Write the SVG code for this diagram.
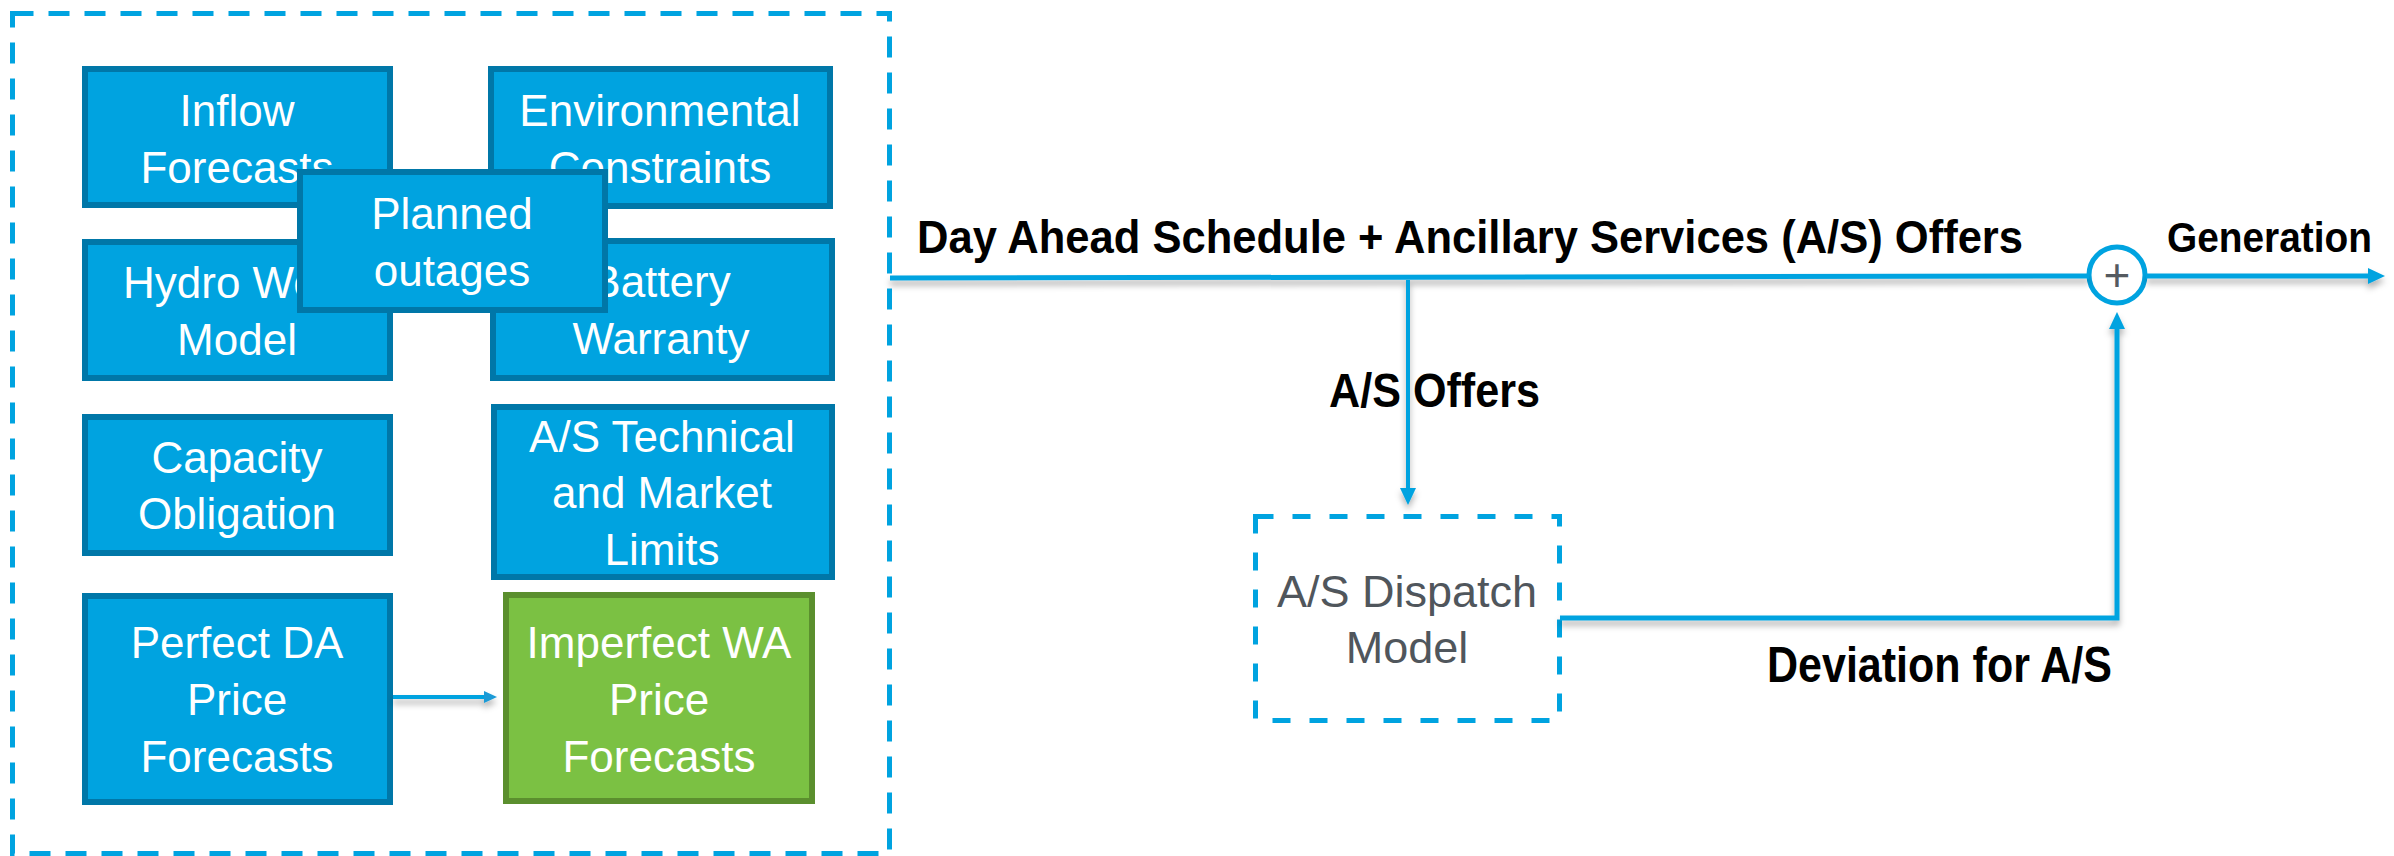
<svg xmlns="http://www.w3.org/2000/svg" width="2394" height="856" viewBox="0 0 2394 856">
<style>
.box{fill:#00a3e0;stroke:#0077a8;stroke-width:6}
.gbox{fill:#7bc143;stroke:#5b8f2e;stroke-width:6}
.bt{font-family:"Liberation Sans",Arial,sans-serif;font-size:44px;fill:#ffffff;text-anchor:middle}
.lbl{font-family:"Liberation Sans",Arial,sans-serif;font-weight:bold;fill:#000000}
.dash{fill:none;stroke:#00a3e0;stroke-width:5}
.conn{fill:none;stroke:#00a3e0;stroke-linejoin:miter}
.gray{font-family:"Liberation Sans",Arial,sans-serif;font-size:45px;fill:#50565c;text-anchor:middle}
</style>
<defs>
<marker id="ah" markerUnits="userSpaceOnUse" markerWidth="17" markerHeight="16" refX="9" refY="8" orient="auto">
<path d="M0,0 L17,8 L0,16 z" fill="#00a3e0"/>
</marker>
<marker id="ahs" markerUnits="userSpaceOnUse" markerWidth="13" markerHeight="12" refX="7" refY="6" orient="auto">
<path d="M0,0 L13,6 L0,12 z" fill="#1a9ad6"/>
</marker>
<filter id="sh" x="-5%" y="-20%" width="110%" height="160%">
<feDropShadow dx="0" dy="5" stdDeviation="3" flood-color="#000" flood-opacity="0.3"/>
</filter>
</defs>
<rect width="2394" height="856" fill="#ffffff"/>

<g id="group-inputs">
<rect class="dash" x="12.5" y="13.5" width="877" height="840" stroke-dasharray="21 15"/>
</g>

<g id="node-inflow">
<rect class="box" x="85" y="69" width="305" height="136"/>
<text class="bt" x="237" y="126">Inflow</text>
<text class="bt" x="237" y="183">Forecasts</text>
</g>
<g id="node-environmental">
<rect class="box" x="491" y="69" width="339" height="137"/>
<text class="bt" x="660" y="126">Environmental</text>
<text class="bt" x="660" y="183">Constraints</text>
</g>
<g id="node-hydro">
<rect class="box" x="85" y="242" width="305" height="136"/>
<text class="bt" x="123" y="298" style="text-anchor:start">Hydro We</text>
<text class="bt" x="237" y="355">Model</text>
</g>
<g id="node-battery">
<rect class="box" x="493" y="241" width="339" height="137"/>
<text class="bt" x="661" y="297">Battery</text>
<text class="bt" x="661" y="354">Warranty</text>
</g>
<g id="node-planned">
<rect class="box" x="300" y="172" width="305" height="138"/>
<text class="bt" x="452" y="229">Planned</text>
<text class="bt" x="452" y="286">outages</text>
</g>
<g id="node-capacity">
<rect class="box" x="85" y="417" width="305" height="136"/>
<text class="bt" x="237" y="473">Capacity</text>
<text class="bt" x="237" y="529">Obligation</text>
</g>
<g id="node-astech">
<rect class="box" x="494" y="407" width="338" height="170"/>
<text class="bt" x="662" y="452">A/S Technical</text>
<text class="bt" x="662" y="508">and Market</text>
<text class="bt" x="662" y="565">Limits</text>
</g>
<g id="node-perfect">
<rect class="box" x="85" y="596" width="305" height="206"/>
<text class="bt" x="237" y="658">Perfect DA</text>
<text class="bt" x="237" y="715">Price</text>
<text class="bt" x="237" y="772">Forecasts</text>
</g>
<g id="node-imperfect">
<rect class="gbox" x="506" y="595" width="306" height="206"/>
<text class="bt" x="659" y="658">Imperfect WA</text>
<text class="bt" x="659" y="715">Price</text>
<text class="bt" x="659" y="772">Forecasts</text>
</g>

<g id="node-dispatch">
<rect class="dash" x="1255.5" y="516.5" width="304" height="204" stroke-dasharray="18 19"/>
<text class="gray" x="1407" y="607">A/S Dispatch</text>
<text class="gray" x="1407" y="663">Model</text>
</g>

<g id="node-sum">
<circle cx="2117" cy="275" r="28" fill="#ffffff" stroke="#00a3e0" stroke-width="5"/>
<text x="2117" y="291" font-family="Liberation Sans, Arial, sans-serif" font-size="46" fill="#555a60" text-anchor="middle">+</text>
</g>

<g id="connectors">
<g filter="url(#sh)">
<path class="conn" d="M890,278 L2089,276" stroke-width="5"/>
<path class="conn" d="M2146,276 L2377,276" stroke-width="5" marker-end="url(#ah)"/>
<path class="conn" d="M1408,280 L1408,497" stroke-width="4" marker-end="url(#ah)"/>
<path class="conn" d="M1560,618 L2117,618 L2117,320" stroke-width="5" marker-end="url(#ah)"/>
<path class="conn" d="M393,697 L491,697" stroke="#1a9ad6" stroke-width="4" marker-end="url(#ahs)"/>
</g>
</g>

<g id="labels">
<text class="lbl" x="917" y="253" font-size="46" textLength="1106" lengthAdjust="spacingAndGlyphs">Day Ahead Schedule + Ancillary Services (A/S) Offers</text>
<text class="lbl" x="2167" y="252" font-size="43" textLength="205" lengthAdjust="spacingAndGlyphs">Generation</text>
<text class="lbl" x="1329" y="407" font-size="48" textLength="211" lengthAdjust="spacingAndGlyphs">A/S Offers</text>
<text class="lbl" x="1767" y="682" font-size="50" textLength="345" lengthAdjust="spacingAndGlyphs">Deviation for A/S</text>
</g>
</svg>
